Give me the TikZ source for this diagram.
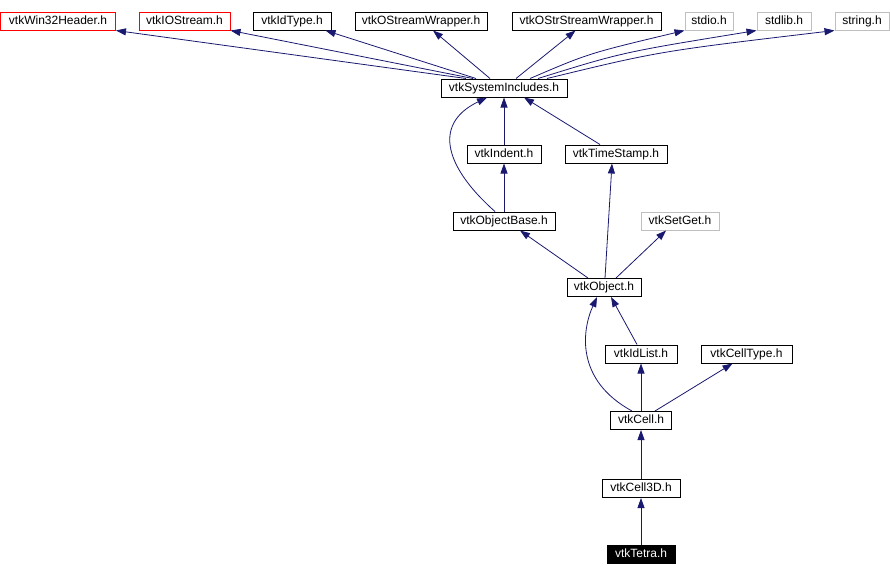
\documentclass[tikz,border=0pt]{standalone}
\usepackage{fontspec}
\setmainfont{Liberation Sans}
\usetikzlibrary{arrows.meta,calc}
\definecolor{edgec}{HTML}{191970}
\definecolor{grayb}{HTML}{BFBFBF}
\tikzset{
  box/.style={draw=black, line width=1pt, inner sep=0pt, minimum height=18pt, font=\fontsize{12}{13}\selectfont, text=black, fill=white, text height=9pt, text depth=2.5pt},
  redbox/.style={box, draw=red},
  graybox/.style={box, draw=grayb},
  selbox/.style={box, fill=black, text=white},
  edge/.style={draw=edgec, line width=0.8pt, -{Triangle[length=10pt,width=7pt,fill=edgec]}},
}
\begin{document}
\begin{tikzpicture}[x=1pt,y=-1pt]
\useasboundingbox (0,0) rectangle (890,576);
% top row
\node[redbox, minimum width=115pt] (win) at (58,21) {vtkWin32Header.h};
\node[redbox, minimum width=91pt] (ios) at (184.5,21) {vtkIOStream.h};
\node[box, minimum width=78pt] (idt) at (292,21) {vtkIdType.h};
\node[box, minimum width=132pt] (osw) at (421,21) {vtkOStreamWrapper.h};
\node[box, minimum width=149pt] (osr) at (586.5,21) {vtkOStrStreamWrapper.h};
\node[graybox, minimum width=48pt] (stdio) at (709,21) {stdio.h};
\node[graybox, minimum width=54pt] (stdlib) at (784,21) {stdlib.h};
\node[graybox, minimum width=54pt] (string) at (862,21) {string.h};
% middle
\node[box, minimum width=126pt] (sys) at (504,88) {vtkSystemIncludes.h};
\node[box, minimum width=74pt] (ind) at (504,154) {vtkIndent.h};
\node[box, minimum width=102pt] (ts) at (616,154) {vtkTimeStamp.h};
\node[box, minimum width=102pt] (ob) at (504,221) {vtkObjectBase.h};
\node[graybox, minimum width=78pt] (sg) at (680,221) {vtkSetGet.h};
\node[box, minimum width=74pt] (obj) at (604,287.5) {vtkObject.h};
\node[box, minimum width=72pt] (idl) at (641,354) {vtkIdList.h};
\node[box, minimum width=91pt] (ct) at (746.5,354) {vtkCellType.h};
\node[box, minimum width=61pt] (cell) at (641,420.5) {vtkCell.h};
\node[box, minimum width=78pt] (c3d) at (641,488.5) {vtkCell3D.h};
\node[selbox, minimum width=68pt] (tet) at (641,554) {vtkTetra.h};
% edges to top row
\draw[edge] ([xshift=-38pt]sys.north) -- (win.south east);
\draw[edge] ([xshift=-31pt]sys.north) -- (ios.south east);
\draw[edge] ([xshift=-28pt]sys.north) -- ([xshift=-6pt]idt.south east);
\draw[edge] ([xshift=-14pt]sys.north) -- ([xshift=12pt]osw.south);
\draw[edge] ([xshift=12pt]sys.north) -- ([xshift=-11pt]osr.south);
\draw[edge] ([xshift=26pt]sys.north) .. controls ($([xshift=26pt]sys.north)!0.4!(stdio.south west)+(-3,-6)$) .. (stdio.south west);
\draw[edge] ([xshift=34pt]sys.north) .. controls ($([xshift=34pt]sys.north)!0.4!(stdlib.south west)+(-3,-7)$) .. (stdlib.south west);
\draw[edge] ([xshift=43pt]sys.north) .. controls ($([xshift=43pt]sys.north)!0.4!(string.south west)+(-3,-8)$) .. (string.south west);
% second level
\draw[edge] (ind.north) -- (sys.south);
\draw[edge] ([xshift=-16pt]ts.north) -- ([xshift=20pt]sys.south);
\draw[edge] ([xshift=-9pt]ob.north) .. controls (448,170) and (430,125) .. ([xshift=-17pt]sys.south);
\draw[edge] (ob.north) -- (ind.south);
\draw[edge] ([xshift=-16pt]obj.north) -- ([xshift=16pt]ob.south);
\draw[edge] ([xshift=1pt]obj.north) -- ([xshift=-4pt]ts.south);
\draw[edge] ([xshift=12pt]obj.north) -- ([xshift=-14pt]sg.south);
\draw[edge] ([xshift=-9pt]cell.north) .. controls (575,380) and (582,330) .. ([xshift=-7pt]obj.south);
\draw[edge] ([xshift=-4pt]idl.north) -- ([xshift=7pt]obj.south);
\draw[edge] (cell.north) -- (idl.south);
\draw[edge] ([xshift=14pt]cell.north) -- ([xshift=-14pt]ct.south);
\draw[edge] (c3d.north) -- (cell.south);
\draw[edge] (tet.north) -- (c3d.south);
\end{tikzpicture}
\end{document}
